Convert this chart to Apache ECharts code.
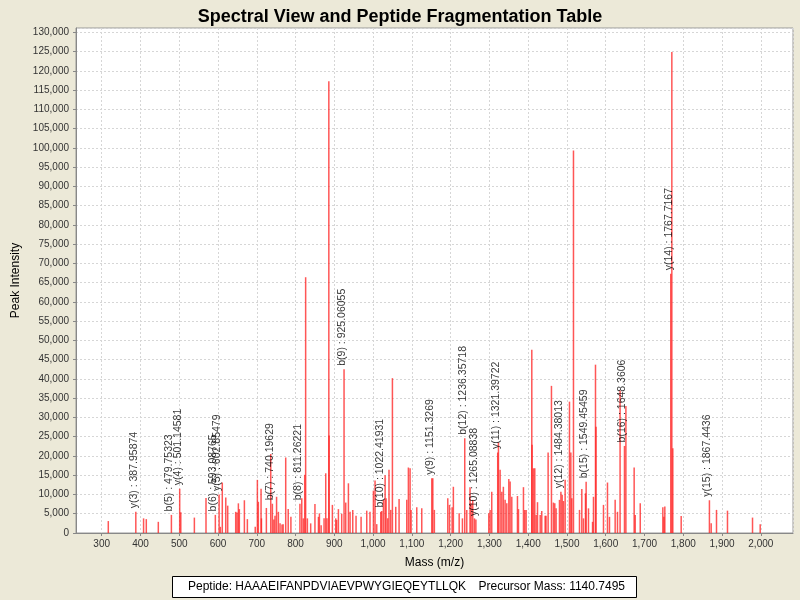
<!DOCTYPE html>
<html><head><meta charset="utf-8">
<script src="https://cdn.jsdelivr.net/npm/echarts@6/dist/echarts.min.js"></script>
<style>html,body{margin:0;padding:0;background:#ECE9D8;}#c{width:800px;height:600px;}</style>
</head><body><div id="c"></div>
<script>
// Peak list (m/z, intensity)
const peakMz = [
 317, 387.96, 408, 415, 446, 479.75, 501.15, 504, 539, 569, 593.09, 602.85, 606, 611, 620, 625,
 645.6, 649, 652.5, 655, 668, 675.7, 696, 701.5, 704, 711, 712, 724.7, 736, 740.2, 744, 747, 751,
 755.7, 760, 765, 768, 774.6, 781, 788, 811.26, 816, 820, 823.6, 826, 830.5, 839, 850, 859, 861.5,
 866, 873.5, 877.8, 881, 885.8, 886.5, 895, 903.6, 906, 910.5, 919, 925.06, 929.4, 936.3, 940.6,
 947.5, 956, 969, 983.6, 992, 1000.8, 1005, 1009.4, 1019.7, 1022.42, 1026.6, 1031, 1033.5, 1037.8,
 1041, 1045.5, 1049.8, 1058.4, 1067, 1086.8, 1091, 1095.4, 1098, 1112.6, 1125.5, 1151.33, 1154,
 1158, 1192.6, 1197, 1203.8, 1207, 1222, 1230.4, 1236.36, 1241.6, 1250, 1252.8, 1257, 1261.4,
 1265.09, 1298.4, 1301.8, 1306, 1321.4, 1323.3, 1327.6, 1332, 1336, 1340.5, 1344.8, 1350, 1353.4,
 1357.7, 1372.3, 1375, 1387.8, 1391.2, 1394.7, 1409.3, 1410, 1413.6, 1417, 1420.5, 1424, 1431,
 1435, 1443.7, 1446, 1451.4, 1460, 1465, 1468.6, 1472, 1480.7, 1484.38, 1487.6, 1491, 1495.3,
 1506.5, 1510, 1512.5, 1516.8, 1532.3, 1538.3, 1542.6, 1547.8, 1549.45, 1555.5, 1566, 1568.4,
 1573.6, 1575, 1594.2, 1604.5, 1609.7, 1624.3, 1630.3, 1637, 1648.36, 1652, 1673.3, 1676, 1689,
 1747.3, 1750, 1752.4, 1767.72, 1770.5, 1773, 1794.6, 1867.44, 1872, 1885.7, 1914, 1978.6, 1998.4
];
const peakIntensity = [
 3100, 5500, 3800, 3600, 2900, 4700, 11500, 5400, 4000, 9100, 4700, 10000, 1600, 13100, 9200, 7100,
 5500, 5300, 7700, 6200, 8500, 3600, 1600, 13800, 8100, 11500, 3800, 6500, 20500, 7600, 3500, 4500, 9400,
 5500, 2500, 2200, 2300, 19600, 6200, 4200, 7600, 9000, 3800, 15100, 66400, 3800, 2500, 7500, 4200, 5100,
 2000, 3800, 15500, 3800, 117300, 25300, 7300, 3800, 3400, 6200, 5000, 42500, 7900, 12900, 5500,
 6000, 4500, 4200, 5800, 5500, 11000, 13600, 2300, 5500, 5700, 8600, 15000, 9000, 3800,
 16400, 6000, 40200, 6800, 8800, 8600, 17000, 16800, 6000, 6700, 6400, 14200, 14200,
 6000, 9000, 7300, 6700, 12000, 5100, 3800, 24600, 6000, 11900, 7700, 8600, 3800,
 3500, 5100, 6000, 10700, 20900, 23500, 16400, 10700, 12000, 8600, 7700, 14000, 13400,
 9400, 9600, 6200, 11900, 6000, 6000, 47600, 22900, 16800, 16800, 4700, 8000, 4700,
 5700, 4500, 4500, 20900, 38200, 7900, 7700, 6400, 8600, 10700, 9900, 8300, 13800,
 34100, 20900, 9000, 99300, 6000, 11400, 3800, 10300, 13300, 6400, 2900, 9400,
 43700, 27600, 7300, 13100, 4200, 8600, 5500, 37000, 22600, 33000, 17000, 4700, 7700,
 6700, 4200, 6900, 67300, 124900, 22000, 4400, 8500, 2500, 6000, 5800, 4000, 2300
];
// Fragment ion annotations
const annotationText = [
 'y(3) : 387.95874', 'b(5) : 479.75323', 'y(4) : 501.14581', 'b(6) : 593.08765', 'y(5) : 602.85479',
 'b(7) : 740.19629', 'b(8) : 811.26221', 'b(9) : 925.06055', 'b(10) : 1022.41931', 'y(9) : 1151.3269',
 'b(12) : 1236.35718', 'y(10) : 1265.08838', 'y(11) : 1321.39722', 'y(12) : 1484.38013',
 'b(15) : 1549.45459', 'b(16) : 1648.3606', 'y(14) : 1767.7167', 'y(15) : 1867.4436'
];
const annotationMz = [387.96, 479.75, 501.15, 593.09, 602.85, 740.2, 811.26, 925.06, 1022.42, 1151.33,
 1236.36, 1265.09, 1321.4, 1484.38, 1549.45, 1648.36, 1767.72, 1867.44];
const annotationIntensity = [5500, 4700, 11500, 4700, 10000, 7600, 7600, 42500, 5700, 14200,
 24600, 3500, 20900, 10700, 13300, 22600, 67300, 8500];

const xMin = 233.7, xMax = 2083, yMax = 131100;
const FONT = 'Liberation Sans, Arial, sans-serif';

const chart = echarts.init(document.getElementById('c'), null, {renderer: 'canvas'});
chart.setOption({
  animation: false,
  backgroundColor: '#ECE9D8',
  tooltip: {show: false},
  title: {
    text: 'Spectral View and Peptide Fragmentation Table',
    left: 'center', top: 3,
    textStyle: {fontFamily: FONT, fontSize: 18, fontWeight: 'bold', color: '#000'}
  },
  grid: {left: 76, right: 7, top: 28, bottom: 67, show: true, backgroundColor: '#fff',
         borderColor: '#999', borderWidth: 1},
  xAxis: {
    type: 'value', min: xMin, max: xMax, splitNumber: 18,
    name: 'Mass (m/z)', nameLocation: 'middle', nameGap: 24,
    nameTextStyle: {fontFamily: FONT, fontSize: 12, color: '#000'},
    axisLine: {show: true, lineStyle: {color: '#888'}},
    axisTick: {show: true, length: 3, lineStyle: {color: '#888'}},
    axisLabel: {fontFamily: FONT, fontSize: 10, color: '#333', margin: 6,
                showMinLabel: false, showMaxLabel: false},
    splitLine: {show: true, lineStyle: {color: '#d6d6d6', type: [2, 2]}}
  },
  yAxis: {
    type: 'value', min: 0, max: yMax, splitNumber: 26,
    name: 'Peak Intensity', nameLocation: 'middle', nameGap: 54,
    nameTextStyle: {fontFamily: FONT, fontSize: 12, color: '#000'},
    axisLine: {show: true, lineStyle: {color: '#888'}},
    axisTick: {show: true, length: 3, lineStyle: {color: '#888'}},
    axisLabel: {fontFamily: FONT, fontSize: 10, color: '#333', margin: 7, showMaxLabel: false},
    splitLine: {show: true, lineStyle: {color: '#d6d6d6', type: [2, 2]}}
  },
  series: [
    {
      type: 'bar', barWidth: 1.5, silent: true,
      emphasis: {disabled: true},
      itemStyle: {color: 'rgba(255,30,30,0.75)'},
      data: peakMz.map((m, i) => [m, peakIntensity[i]])
    },
    {
      type: 'scatter', symbolSize: 1, silent: true,
      emphasis: {disabled: true},
      itemStyle: {color: 'rgba(0,0,0,0)'},
      label: {
        show: true, formatter: '{b}', rotate: 90, position: [-1.5, -3],
        align: 'left', verticalAlign: 'middle',
        fontFamily: FONT, fontSize: 10.5, color: '#000'
      },
      data: annotationMz.map((m, i) => ({name: annotationText[i], value: [m, annotationIntensity[i]]}))
    }
  ],
  graphic: [
    {type: 'rect', silent: true, shape: {x: 172.5, y: 576.5, width: 464, height: 21},
     style: {fill: '#fff', stroke: '#000', lineWidth: 1}},
    {type: 'text', silent: true, x: 188, y: 587,
     style: {text: 'Peptide: HAAAEIFANPDVIAEVPWYGIEQEYTLLQK', fontFamily: FONT, fontSize: 12,
             fill: '#000', textVerticalAlign: 'middle'}},
    {type: 'text', silent: true, x: 625, y: 587,
     style: {text: 'Precursor Mass: 1140.7495', fontFamily: FONT, fontSize: 12,
             fill: '#000', textAlign: 'right', textVerticalAlign: 'middle'}}
  ]
});
</script></body></html>
